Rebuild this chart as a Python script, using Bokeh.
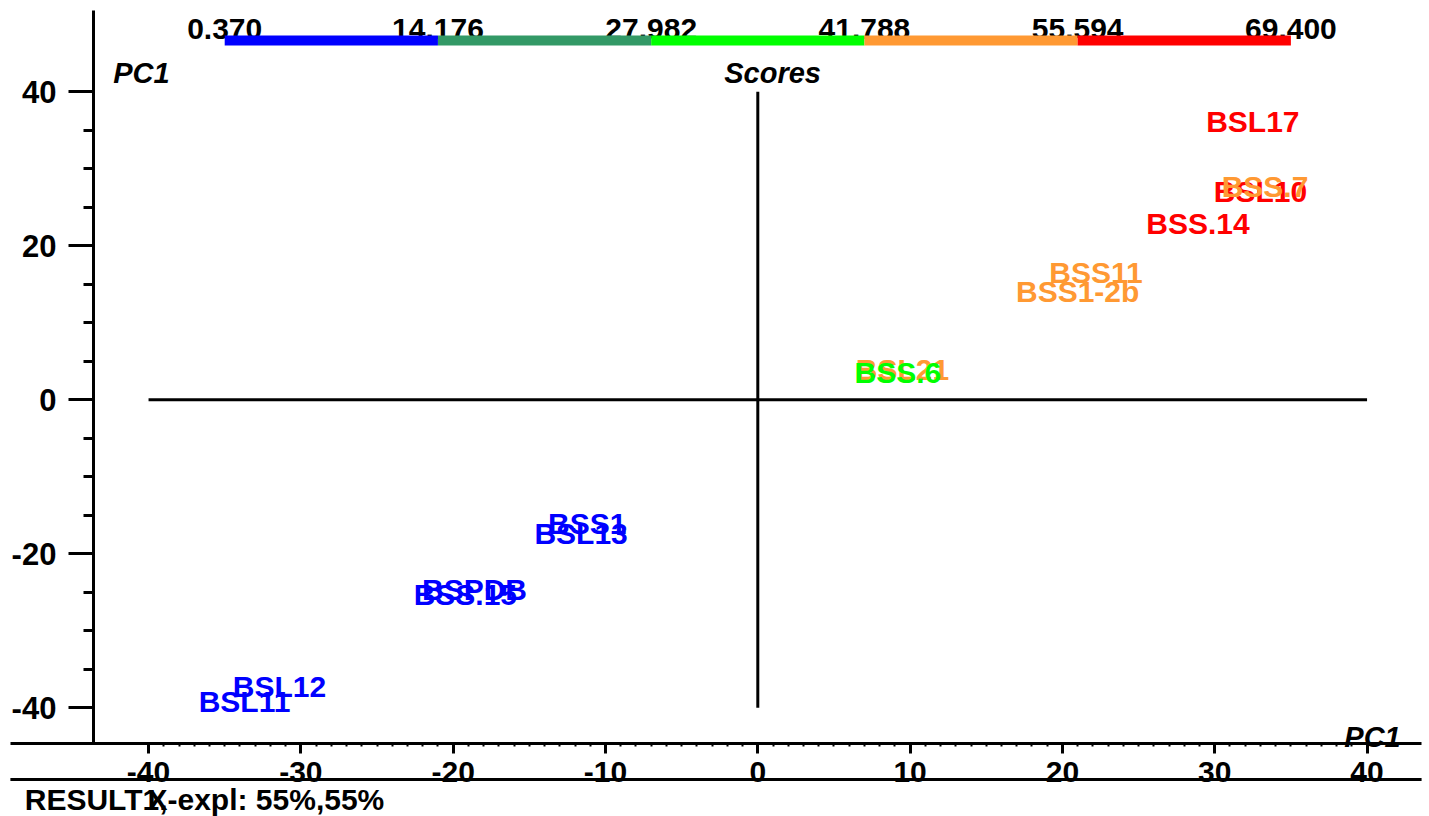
from bokeh.plotting import figure
from bokeh.models import Range1d, LinearAxis, FixedTicker, ColumnDataSource, Label, PrintfTickFormatter
from bokeh.core.properties import value
from bokeh.embed import file_html
from bokeh.resources import INLINE

# ---- data ----
samples = ["BSL17", "BSL10", "BSS.7", "BSS.14", "BSS11", "BSS1-2b", "BSL21", "BSS.6",
           "BSL13", "BSS1", "BSS.15", "BSPDB", "BSL11", "BSL12"]
pc1 = [32.5, 33.0, 33.3, 28.9, 22.2, 21.0, 9.5, 9.2, -11.6, -11.2, -19.2, -18.6, -33.7, -31.4]
pc2 = [36.2, 27.1, 27.7, 22.9, 16.5, 14.1, 3.9, 3.5, -17.4, -16.1, -25.3, -24.6, -39.2, -37.2]
bin_index = [4, 4, 3, 4, 3, 3, 3, 2, 0, 0, 0, 0, 0, 0]
scale_edges = [0.370, 14.176, 27.982, 41.788, 55.594, 69.400]
scale_colors = ["#0000FF", "#339966", "#00FF00", "#FF9933", "#FF0000"]
x_major = [-40, -30, -20, -10, 0, 10, 20, 30, 40]
x_minor = list(range(-40, 41))
y_major = [-40, -20, 0, 20, 40]
y_minor = list(range(-40, 41, 5))

FONT = value("Liberation Sans")

p = figure(width=1429, height=816, output_backend="svg", toolbar_location=None,
           x_range=Range1d(-49.72, 44.10), y_range=Range1d(-54.12, 51.86),
           x_axis_type=None, y_axis_type=None, min_border=0,
           outline_line_color=None)
p.xgrid.visible = False
p.ygrid.visible = False

# axes
xaxis = LinearAxis(fixed_location=-44.64, bounds=(-49.07, 43.58),
                   ticker=FixedTicker(ticks=x_major, minor_ticks=x_minor),
                   formatter=PrintfTickFormatter(format="%d"),
                   axis_line_width=3, major_tick_line_width=3, minor_tick_line_width=2,
                   major_tick_in=0, major_tick_out=10, minor_tick_in=0, minor_tick_out=3,
                   major_label_standoff=8,
                   major_label_text_font="Liberation Sans", major_label_text_font_style="bold",
                   major_label_text_font_size="30px", major_label_text_color="black")
p.add_layout(xaxis, "below")
yaxis = LinearAxis(fixed_location=-43.62, bounds=(-44.64, 50.56),
                   ticker=FixedTicker(ticks=y_major, minor_ticks=y_minor),
                   formatter=PrintfTickFormatter(format="%d"),
                   axis_line_width=3, major_tick_line_width=3, minor_tick_line_width=3,
                   major_tick_in=0, major_tick_out=25, minor_tick_in=0, minor_tick_out=10,
                   major_label_standoff=12,
                   major_label_text_font="Liberation Sans", major_label_text_font_style="bold",
                   major_label_text_font_size="31px", major_label_text_color="black")
p.add_layout(yaxis, "left")

# second rule through the x tick labels
p.segment(x0=[-49.07], y0=[-49.31], x1=[43.58], y1=[-49.31], line_color="black", line_width=3)

# crosshair
p.segment(x0=[-40, 0], y0=[0, -40], x1=[40, 0], y1=[0, 40], line_color="black", line_width=3)

# colour scale bar (edges mapped linearly onto x = -35 .. 35)
lo, hi = scale_edges[0], scale_edges[-1]
bar_x = [-35 + 70 * (v - lo) / (hi - lo) for v in scale_edges]
p.text(x=bar_x, y=[48.2] * len(bar_x), text=[f"{v:.3f}" for v in scale_edges],
       text_font=FONT, text_font_style="bold", text_font_size="30px",
       text_align="center", text_baseline="middle", text_color="black")
p.quad(left=bar_x[:-1], right=bar_x[1:], bottom=[46.01] * 5, top=[47.31] * 5,
       fill_color=scale_colors, line_color=None)

# sample labels
src = ColumnDataSource(dict(x=pc1, y=pc2, name=samples,
                            color=[scale_colors[i] for i in bin_index]))
p.text(x="x", y="y", text="name", source=src, text_color="color",
       text_font=FONT, text_font_style="bold", text_font_size="30px",
       text_align="center", text_baseline="middle")

# annotations
for txt, x, y in [("PC1", -40.47, 42.4), ("Scores", 0.97, 42.4), ("PC1", 40.36, -43.84)]:
    p.add_layout(Label(x=x, y=y, text=txt, text_font="Liberation Sans",
                       text_font_style="bold italic", text_font_size="29px",
                       text_align="center", text_baseline="middle", text_color="black"))
p.add_layout(Label(x=-48.13, y=-51.9, text="RESULT1,", text_font="Liberation Sans",
                   text_font_style="bold", text_font_size="30px",
                   text_align="left", text_baseline="middle", text_color="black"))
p.add_layout(Label(x=-40.07, y=-51.9, text="X-expl: 55%,55%", text_font="Liberation Sans",
                   text_font_style="bold", text_font_size="30px",
                   text_align="left", text_baseline="middle", text_color="black"))

open("out.html", "w").write(file_html(p, INLINE))
